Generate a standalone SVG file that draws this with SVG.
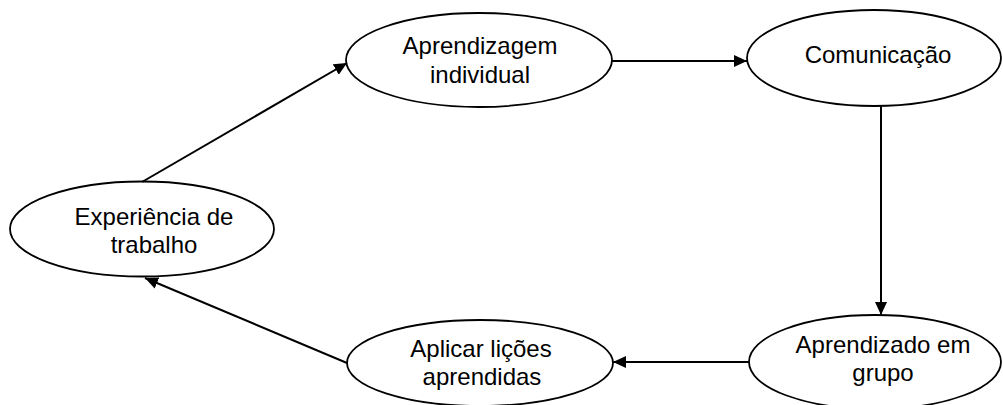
<svg xmlns="http://www.w3.org/2000/svg" width="1003" height="405" viewBox="0 0 1003 405">
  <style>
    .node ellipse { fill: #ffffff; stroke: #000000; stroke-width: 1.8; }
    .node text { font-family: "Liberation Sans", Arial, sans-serif; font-size: 24px; fill: #000000; text-anchor: middle; }
    .edges line { stroke: #000000; stroke-width: 2; marker-end: url(#arrow); }
  </style>
  <defs>
    <marker id="arrow" markerUnits="userSpaceOnUse" markerWidth="14" markerHeight="12" refX="13" refY="6" orient="auto">
      <path d="M0,0 L13,6 L0,12 Z" fill="#000000"/>
    </marker>
  </defs>
  <rect width="1003" height="405" fill="#ffffff"/>

  <g id="aprendizagem-individual" class="node">
    <ellipse cx="479" cy="60" rx="133" ry="47"/>
    <text x="480" y="54">Aprendizagem</text>
    <text x="480" y="83">individual</text>
  </g>

  <g id="comunicacao" class="node">
    <ellipse cx="874" cy="58" rx="127" ry="48"/>
    <text x="878" y="63">Comunicação</text>
  </g>

  <g id="experiencia-de-trabalho" class="node">
    <ellipse cx="142" cy="229" rx="132" ry="47.5"/>
    <text x="154" y="225">Experiência de</text>
    <text x="154" y="253">trabalho</text>
  </g>

  <g id="aplicar-licoes-aprendidas" class="node">
    <ellipse cx="480" cy="363" rx="133" ry="43"/>
    <text x="481" y="357">Aplicar lições</text>
    <text x="482" y="385">aprendidas</text>
  </g>

  <g id="aprendizado-em-grupo" class="node">
    <ellipse cx="875" cy="362" rx="126" ry="47"/>
    <text x="883" y="353">Aprendizado em</text>
    <text x="883" y="381">grupo</text>
  </g>

  <g id="connectors" class="edges">
    <line x1="142" y1="182" x2="347" y2="63"/>
    <line x1="612" y1="61" x2="747" y2="61"/>
    <line x1="881" y1="106" x2="881" y2="315"/>
    <line x1="749" y1="362" x2="613" y2="362"/>
    <line x1="347" y1="363" x2="145" y2="278"/>
  </g>
</svg>
